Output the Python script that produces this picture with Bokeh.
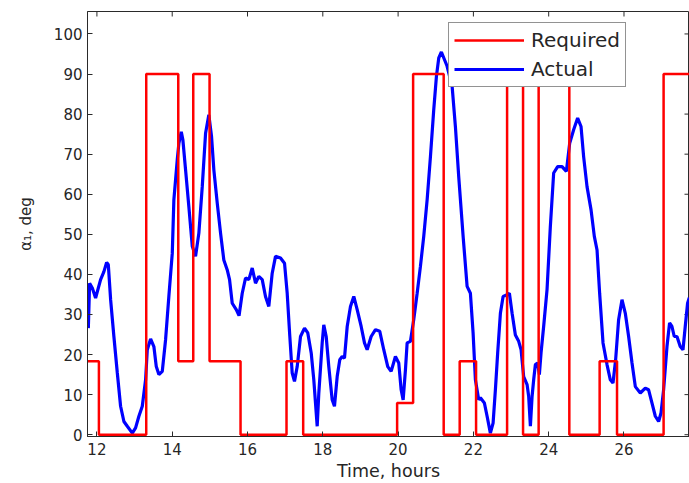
from bokeh.plotting import figure
from bokeh.models import Range1d, FixedTicker, Legend, LegendItem
from bokeh.embed import file_html
from bokeh.resources import INLINE

# Required (step) series: switching times [h] and levels [deg]
req_t = [11.75, 12.053, 13.31, 14.161, 14.559, 14.992, 15.815, 17.036, 17.479, 19.974,
         20.399, 21.211, 21.636, 22.071, 22.895, 23.319, 23.733, 24.548, 25.353, 25.815,
         27.052, 27.75]
req_v = [18.3, 0, 90, 18.3, 90, 18.3, 0, 18.3, 0, 7.9,
         90, 0, 18.3, 0, 90, 0, 90, 0, 18.3, 0,
         90, 90]

# Actual series
act_t = [11.772, 11.806, 11.878, 11.965, 12.098, 12.186, 12.258, 12.303, 12.364, 12.451,
         12.542, 12.629, 12.717, 12.807, 12.940, 13.027, 13.115, 13.205, 13.293, 13.338,
         13.426, 13.513, 13.577, 13.646, 13.736, 13.824, 13.911, 14.002, 14.044, 14.134,
         14.177, 14.241, 14.283, 14.355, 14.442, 14.533, 14.620, 14.708, 14.798, 14.886,
         14.973, 15.045, 15.106, 15.196, 15.284, 15.371, 15.462, 15.523, 15.594, 15.701,
         15.775, 15.860, 15.948, 16.035, 16.125, 16.213, 16.300, 16.391, 16.478, 16.566,
         16.656, 16.744, 16.877, 16.983, 17.054, 17.124, 17.187, 17.248, 17.320, 17.408,
         17.514, 17.601, 17.692, 17.761, 17.851, 17.894, 17.984, 18.026, 18.090, 18.159,
         18.249, 18.310, 18.382, 18.451, 18.515, 18.576, 18.648, 18.735, 18.823, 18.913,
         19.019, 19.107, 19.178, 19.284, 19.399, 19.513, 19.619, 19.725, 19.815, 19.929,
         20.017, 20.081, 20.134, 20.195, 20.240, 20.328, 20.415, 20.506, 20.593, 20.681,
         20.771, 20.859, 20.946, 21.018, 21.080, 21.150, 21.300, 21.435, 21.522, 21.610,
         21.727, 21.833, 21.920, 21.992, 22.053, 22.141, 22.186, 22.292, 22.364, 22.451,
         22.523, 22.584, 22.645, 22.717, 22.789, 22.895, 22.956, 23.028, 23.115, 23.203,
         23.267, 23.335, 23.426, 23.468, 23.514, 23.559, 23.601, 23.646, 23.707, 23.752,
         23.797, 23.866, 23.956, 24.044, 24.132, 24.238, 24.355, 24.469, 24.557, 24.663,
         24.769, 24.859, 24.928, 25.018, 25.125, 25.212, 25.284, 25.353, 25.443, 25.549,
         25.637, 25.708, 25.778, 25.857, 25.947, 26.035, 26.123, 26.213, 26.301, 26.433,
         26.566, 26.654, 26.744, 26.832, 26.920, 26.983, 27.052, 27.142, 27.211, 27.274,
         27.335, 27.407, 27.494, 27.567, 27.627, 27.689, 27.734]
act_v = [26.6, 37.8, 36.6, 34.1, 38.7, 40.7, 43.0, 42.4, 33.7, 24.5,
         15.4, 7.1, 3.3, 2.1, 0.4, 1.7, 4.6, 7.1, 13.7, 21.2,
         23.9, 22.0, 17.0, 15.0, 15.8, 23.7, 34.5, 45.3, 58.6, 68.6,
         72.7, 75.6, 73.6, 66.1, 56.9, 47.0, 44.5, 50.3, 61.9, 75.2,
         79.8, 74.4, 66.1, 57.8, 50.3, 43.6, 41.1, 38.7, 32.8, 31.2,
         29.7, 35.3, 39.1, 38.7, 41.6, 37.8, 39.5, 38.7, 34.5, 32.0,
         40.3, 44.5, 44.1, 42.8, 35.3, 24.5, 15.4, 13.3, 17.0, 24.5,
         26.6, 25.4, 20.4, 13.7, 2.1, 10.4, 22.9, 27.4, 24.5, 17.0,
         8.7, 7.1, 14.5, 18.7, 19.5, 19.1, 27.0, 32.0, 34.5, 31.2,
         27.0, 22.9, 21.2, 24.5, 26.2, 25.8, 21.2, 17.0, 15.8, 19.5,
         17.9, 11.2, 8.7, 16.2, 22.9, 23.3, 28.7, 35.3, 42.0, 49.5,
         58.6, 69.4, 81.0, 89.4, 94.0, 95.5, 92.0, 86.9, 76.9, 64.4,
         49.5, 37.0, 35.3, 25.4, 13.7, 8.7, 9.2, 7.9, 4.6, 0.4,
         2.9, 11.2, 20.4, 30.3, 34.5, 34.9, 35.3, 30.3, 24.9, 23.3,
         21.2, 14.5, 12.5, 9.6, 2.1, 9.6, 13.7, 17.5, 17.9, 15.0,
         20.4, 27.0, 36.2, 52.0, 65.3, 66.9, 66.9, 65.7, 72.7, 76.1,
         79.0, 76.9, 69.4, 61.9, 56.1, 49.5, 46.1, 35.3, 22.9, 17.5,
         13.7, 12.9, 18.7, 28.7, 33.7, 30.3, 24.5, 17.9, 12.0, 10.4,
         11.6, 11.2, 7.9, 4.6, 3.3, 5.4, 11.2, 22.0, 27.9, 27.0,
         24.5, 24.5, 22.0, 21.2, 27.0, 32.8, 34.2]

x_ticks = [12, 14, 16, 18, 20, 22, 24, 26]
y_ticks = [0, 10, 20, 30, 40, 50, 60, 70, 80, 90, 100]

X0, X1 = 11.75, 27.74
Y0, Y1 = -0.45, 105.6

FONT = "DejaVu Sans"
TXT = "#262626"
AX = "#2a2a2a"

p = figure(width=689, height=483, output_backend="svg", toolbar_location=None,
           x_range=Range1d(X0, X1), y_range=Range1d(Y0, Y1),
           min_border_left=87, min_border_right=0, min_border_top=11,
           min_border_bottom=47)
p.outline_line_color = AX
p.outline_line_width = 1
p.xgrid.visible = False
p.ygrid.visible = False
p.background_fill_color = "white"
p.border_fill_color = "white"

xa = p.below[0]
ya = p.left[0]
for ax in (xa, ya):
    ax.major_tick_in = 5
    ax.major_tick_out = 0
    ax.minor_tick_line_color = None
    ax.axis_line_color = AX
    ax.major_tick_line_color = AX
    ax.major_label_text_font = FONT
    ax.major_label_text_font_size = "15px"
    ax.major_label_text_color = TXT
    ax.axis_label_text_font = FONT
    ax.axis_label_text_font_style = "normal"
    ax.axis_label_text_color = TXT
xa.ticker = FixedTicker(ticks=x_ticks)
ya.ticker = FixedTicker(ticks=y_ticks)
xa.axis_label = "Time, hours"
ya.axis_label = "α\u2081, deg"
xa.axis_label_text_font_size = "17.5px"
ya.axis_label_text_font_size = "15px"
xa.major_label_standoff = 6
xa.axis_label_standoff = 3
ya.major_label_standoff = 5
ya.axis_label_standoff = 16

# mirrored tick marks on the top and right box edges (Matlab-style box)
tick_dy = 5.0 * (Y1 - Y0) / 425.0
tick_dx = 5.0 * (X1 - X0) / 602.0
p.segment(x0=x_ticks, y0=[Y1] * len(x_ticks), x1=x_ticks, y1=[Y1 - tick_dy] * len(x_ticks),
          line_color=AX, line_width=1)
p.segment(x0=[X1] * len(y_ticks), y0=y_ticks, x1=[X1 - tick_dx] * len(y_ticks), y1=y_ticks,
          line_color=AX, line_width=1)

r_act = p.line(act_t, act_v, line_color="#0000ff", line_width=3.2)
r_req = p.step(req_t, req_v, mode="after", line_color="#ff0000", line_width=2.5)

legend = Legend(items=[LegendItem(label="Required", renderers=[r_req]),
                       LegendItem(label="Actual", renderers=[r_act])],
                location=(361, 349), margin=0, padding=5, spacing=5,
                glyph_width=70, glyph_height=22, label_height=22, label_standoff=7,
                label_text_font=FONT, label_text_font_size="20px",
                label_text_color=TXT, border_line_color=TXT, border_line_width=1,
                background_fill_color="white", background_fill_alpha=1.0)
p.add_layout(legend)

open("out.html", "w").write(file_html(p, INLINE))
